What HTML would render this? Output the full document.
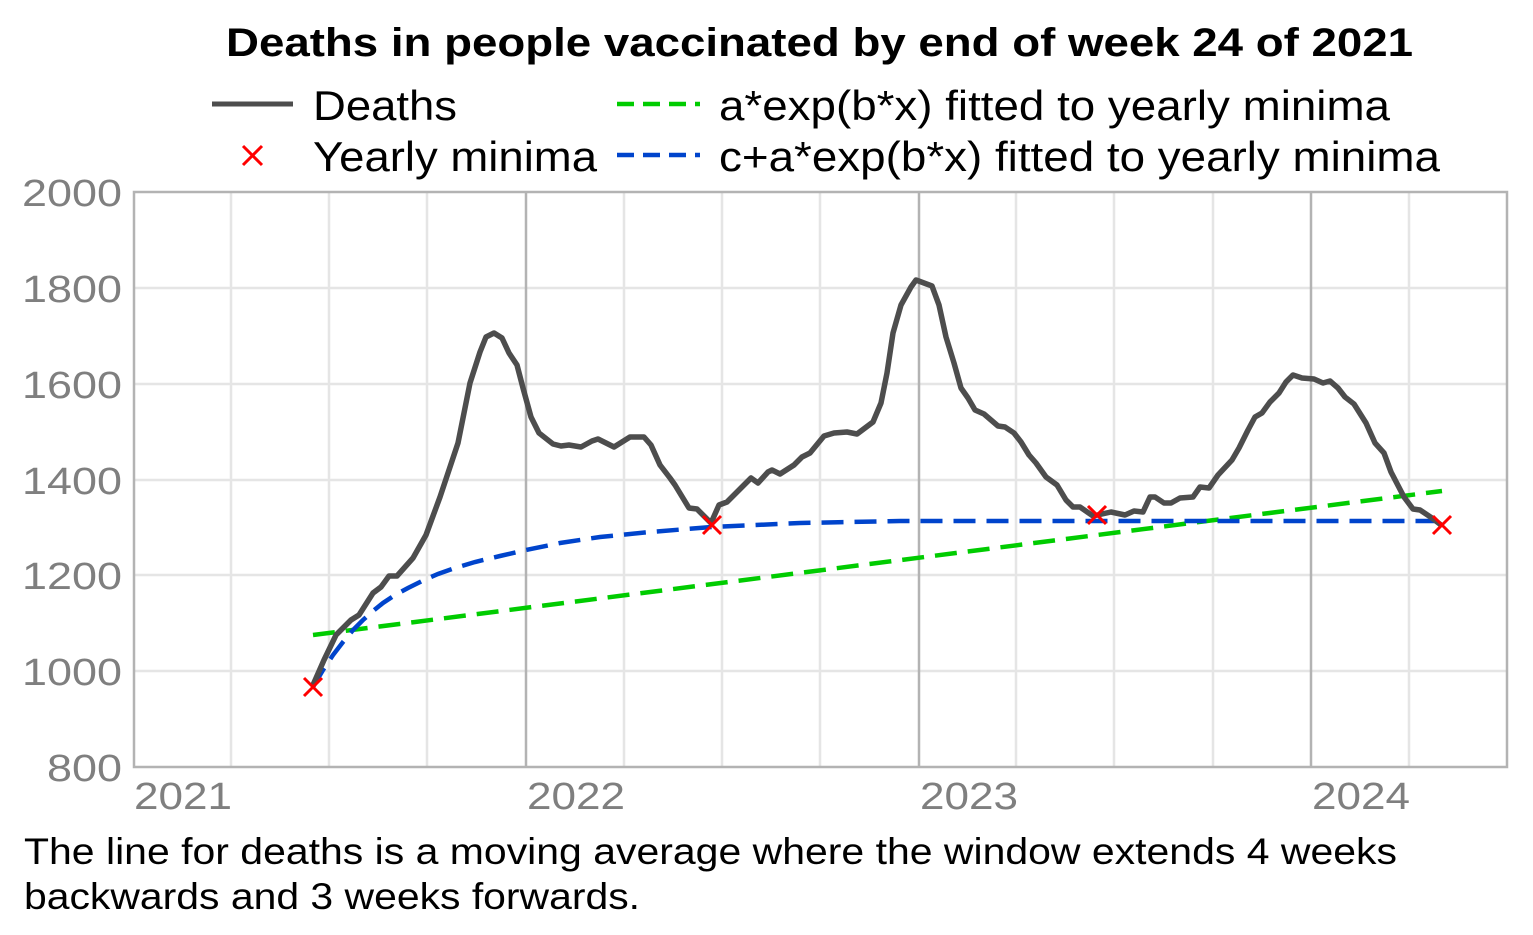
<!DOCTYPE html>
<html><head><meta charset="utf-8"><style>
html,body{margin:0;padding:0;background:#fff;}
svg{display:block;font-family:"Liberation Sans",Arial,sans-serif;}
</style></head><body>
<svg width="1533" height="935" viewBox="0 0 1533 935" xmlns="http://www.w3.org/2000/svg">
<text x="226" y="56" font-size="40" font-weight="bold" textLength="1187" lengthAdjust="spacingAndGlyphs">Deaths in people vaccinated by end of week 24 of 2021</text>
<!-- legend -->
<line x1="212" y1="104" x2="293" y2="104" stroke="#4d4d4d" stroke-width="5"/>
<text x="313" y="120" font-size="42" textLength="144" lengthAdjust="spacingAndGlyphs">Deaths</text>
<path d="M243,146 L262,165 M262,146 L243,165" stroke="#ff0000" stroke-width="3"/>
<text x="313" y="171" font-size="42" textLength="284" lengthAdjust="spacingAndGlyphs">Yearly minima</text>
<line x1="617" y1="104" x2="700" y2="104" stroke="#00cc00" stroke-width="4.5" stroke-dasharray="17,9"/>
<text x="719" y="120" font-size="42" textLength="671" lengthAdjust="spacingAndGlyphs">a*exp(b*x) fitted to yearly minima</text>
<line x1="617" y1="155" x2="700" y2="155" stroke="#0044cc" stroke-width="4.5" stroke-dasharray="17,9"/>
<text x="719" y="171" font-size="42" textLength="721" lengthAdjust="spacingAndGlyphs">c+a*exp(b*x) fitted to yearly minima</text>
<!-- grid -->
<g stroke="#e5e5e5" stroke-width="2.5">
<line x1="134" y1="288" x2="1507" y2="288"/><line x1="134" y1="384" x2="1507" y2="384"/>
<line x1="134" y1="480" x2="1507" y2="480"/><line x1="134" y1="575" x2="1507" y2="575"/>
<line x1="134" y1="671" x2="1507" y2="671"/>
<line x1="231" y1="192" x2="231" y2="767"/><line x1="329" y1="192" x2="329" y2="767"/>
<line x1="427" y1="192" x2="427" y2="767"/><line x1="624" y1="192" x2="624" y2="767"/>
<line x1="722" y1="192" x2="722" y2="767"/><line x1="820" y1="192" x2="820" y2="767"/>
<line x1="1016" y1="192" x2="1016" y2="767"/><line x1="1114" y1="192" x2="1114" y2="767"/>
<line x1="1213" y1="192" x2="1213" y2="767"/><line x1="1409" y1="192" x2="1409" y2="767"/>
</g>
<g stroke="#b3b3b3" stroke-width="2.5">
<line x1="526" y1="192" x2="526" y2="767"/><line x1="919" y1="192" x2="919" y2="767"/><line x1="1311" y1="192" x2="1311" y2="767"/>
</g>
<rect x="134" y="192" width="1373" height="575" fill="none" stroke="#b3b3b3" stroke-width="2.5"/>
<!-- ticks -->
<g font-size="38" fill="#7f7f7f">
<text x="22" y="206" textLength="100" lengthAdjust="spacingAndGlyphs">2000</text>
<text x="22" y="302" textLength="100" lengthAdjust="spacingAndGlyphs">1800</text>
<text x="22" y="398" textLength="100" lengthAdjust="spacingAndGlyphs">1600</text>
<text x="22" y="494" textLength="100" lengthAdjust="spacingAndGlyphs">1400</text>
<text x="22" y="589" textLength="100" lengthAdjust="spacingAndGlyphs">1200</text>
<text x="22" y="685" textLength="100" lengthAdjust="spacingAndGlyphs">1000</text>
<text x="47" y="781" textLength="75" lengthAdjust="spacingAndGlyphs">800</text>
<text x="134" y="809" textLength="98" lengthAdjust="spacingAndGlyphs">2021</text>
<text x="527" y="809" textLength="98" lengthAdjust="spacingAndGlyphs">2022</text>
<text x="920" y="809" textLength="98" lengthAdjust="spacingAndGlyphs">2023</text>
<text x="1312" y="809" textLength="98" lengthAdjust="spacingAndGlyphs">2024</text>
</g>
<!-- fits -->
<line x1="313" y1="635" x2="1442" y2="491" stroke="#00cc00" stroke-width="4.5" stroke-dasharray="22,11"/>
<polyline fill="none" stroke="#0044cc" stroke-width="4.5" stroke-dasharray="22,11" points="313,687 323,670 333,655 343,642 353,630 363,620 373,611 383,603 395,595 408,588 422,581 438,574 455,568 475,562 500,556 526,550 560,543 600,537 650,532 712,527 800,523 900,521 1000,521 1442,521"/>
<!-- deaths -->
<polyline fill="none" stroke="#4d4d4d" stroke-width="5.5" stroke-linejoin="round" points="313,685 324,660 336,635 351,620 359,615 373,593 381,587 389,576 397,576 413,558 426,535 440,497 450,467 458,443 470,383 480,352 486,337 494,333 502,338 509,353 517,365 523,388 531,417 539,433 553,444 561,446 569,445 581,447 592,441 598,439 614,447 630,437 644,437 651,445 660,465 670,478 675,485 689,508 697,509 711,523 719,505 727,502 741,488 751,478 758,483 768,472 772,470 780,474 794,465 802,457 810,453 824,436 834,433 847,432 857,434 865,428 873,422 881,403 887,373 893,333 901,305 911,287 916,280 932,286 939,305 946,337 954,363 961,388 968,398 975,410 984,414 998,426 1005,427 1014,433 1021,442 1029,455 1036,463 1046,477 1057,485 1066,500 1073,507 1080,507 1093,516 1111,512 1125,515 1134,511 1143,512 1150,497 1155,497 1164,503 1171,503 1180,498 1193,497 1200,487 1209,488 1218,475 1232,460 1239,448 1248,430 1255,417 1262,413 1270,402 1279,393 1286,382 1293,375 1302,378 1314,379 1323,383 1330,381 1338,388 1345,397 1354,404 1366,423 1375,443 1384,453 1391,472 1404,497 1413,509 1420,510 1432,518 1441,525"/>
<!-- minima -->
<g stroke="#ff0000" stroke-width="3">
<path d="M304,678 L322,696 M322,678 L304,696"/>
<path d="M703,516 L721,534 M721,516 L703,534"/>
<path d="M1088,506 L1106,524 M1106,506 L1088,524"/>
<path d="M1433,516 L1451,534 M1451,516 L1433,534"/>
</g>
<text x="24" y="864" font-size="37" textLength="1373" lengthAdjust="spacingAndGlyphs">The line for deaths is a moving average where the window extends 4 weeks</text>
<text x="24" y="909" font-size="37" textLength="616" lengthAdjust="spacingAndGlyphs">backwards and 3 weeks forwards.</text>
</svg>
</body></html>
